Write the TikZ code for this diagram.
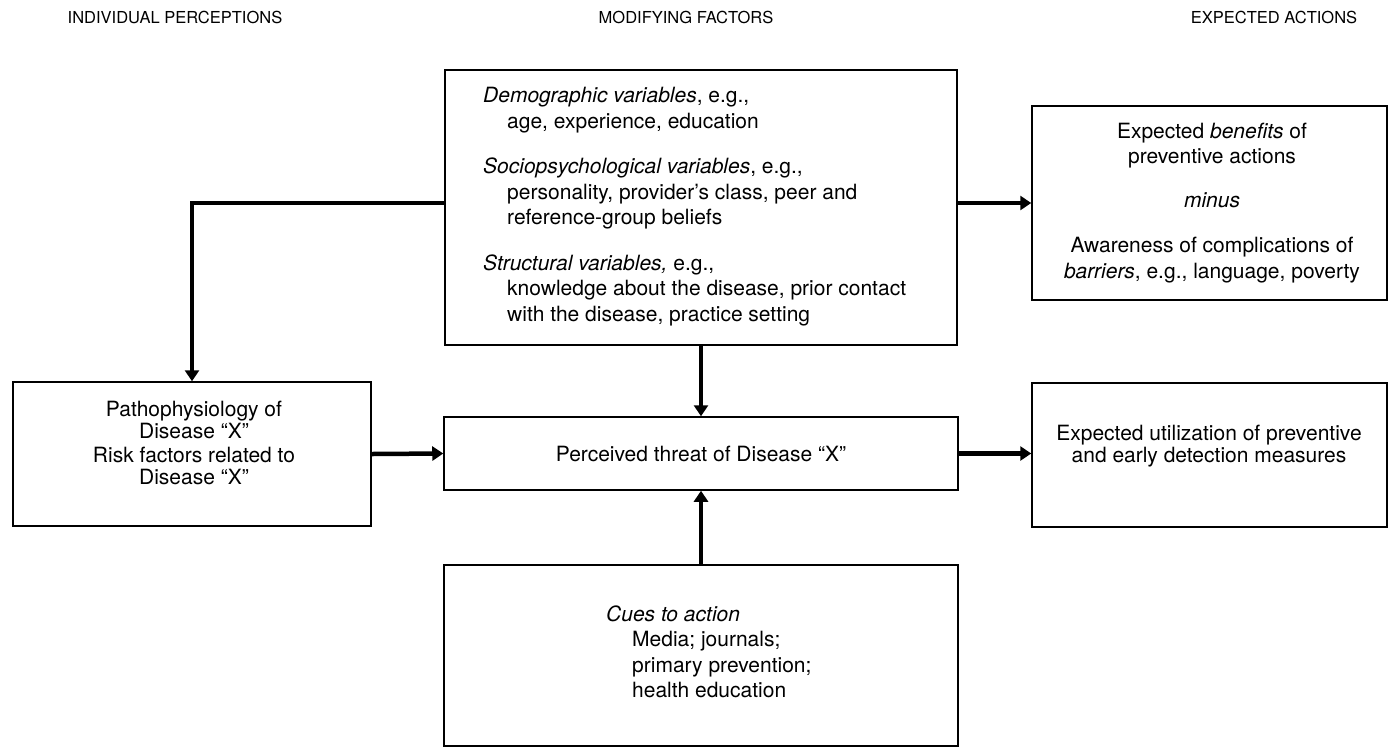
\documentclass[tikz,border=0pt]{standalone}
\usepackage{fontspec}
\setmainfont{TeX Gyre Heros}
\usetikzlibrary{arrows.meta}

\tikzset{
  box/.style={draw, line width=1.5pt, inner sep=0pt},
  link/.style={line width=4.5pt, -{Triangle[length=11pt,width=14pt]}},
  head/.style={font=\fontsize{16.5}{19}\selectfont},
  txt/.style={inner sep=0pt, align=#1},
  txt/.default=center,
}

\begin{document}
\begin{tikzpicture}[x=1pt, y=-1pt, font=\fontsize{21}{25.5}\selectfont]
  \useasboundingbox (0,0) rectangle (1389,748);

  % Column headings
  \node[head] (hind) at (175,17) {INDIVIDUAL PERCEPTIONS};
  \node[head] (hmod) at (686,17) {MODIFYING FACTORS};
  \node[head] (hact) at (1274,17) {EXPECTED ACTIONS};

  % Boxes
  \node[box, minimum width=512pt, minimum height=275pt] (mod) at (701,207.5) {};
  \node[box, minimum width=355pt, minimum height=194pt] (ben) at (1209.5,203) {};
  \node[box, minimum width=358pt, minimum height=144pt] (pat) at (192,454) {};
  \node[box, minimum width=514pt, minimum height=73pt] (thr) at (701,453.5)
    {Perceived threat of Disease ``X''};
  \node[box, minimum width=355pt, minimum height=144pt] (use) at (1209.5,455) {};
  \node[box, minimum width=514pt, minimum height=181pt] (cue) at (701,655.5) {};

  % Box texts
  \node[txt=left, anchor=west] (modtxt) at (483,206.5) {%
    \textit{Demographic variables}, e.g.,\\
    \hspace*{24pt}age, experience, education\\[20pt]
    \textit{Sociopsychological variables}, e.g.,\\
    \hspace*{24pt}personality, provider's class, peer and\\
    \hspace*{24pt}reference-group beliefs\\[20pt]
    \textit{Structural variables,} e.g.,\\
    \hspace*{24pt}knowledge about the disease, prior contact\\
    \hspace*{24pt}with the disease, practice setting};
  \node[txt] (bentxt) at (1212,203) {%
    Expected \textit{benefits} of\\
    preventive actions\\[18pt]
    \textit{minus}\\[20pt]
    Awareness of complications of\\
    \textit{barriers}, e.g., language, poverty};
  \node[txt, font=\fontsize{21}{22}\selectfont] (pattxt) at (194,443) {%
    Pathophysiology of\\
    Disease ``X''\\[2pt]
    Risk factors related to\\
    Disease ``X''};
  \node[txt, font=\fontsize{21}{22.5}\selectfont] (usetxt) at (1209,446) {%
    Expected utilization of preventive\\
    and early detection measures};
  \node[txt=left, anchor=west] (cuetxt) at (606,652) {%
    \textit{Cues to action}\\
    \hspace*{26pt}Media; journals;\\
    \hspace*{26pt}primary prevention;\\
    \hspace*{26pt}health education};

  % Connectors
  \draw[link] (mod.east |- ben.west) -- (ben.west);
  \draw[link] (mod.west |- ben.west) -| (pat.north);
  \draw[link] (mod.south) -- (thr.north);
  \draw[link] (pat.east) -- (thr.west);
  \draw[link] (thr.east) -- (use.west |- thr.east);
  \draw[link] (cue.north) -- (thr.south);
\end{tikzpicture}
\end{document}
